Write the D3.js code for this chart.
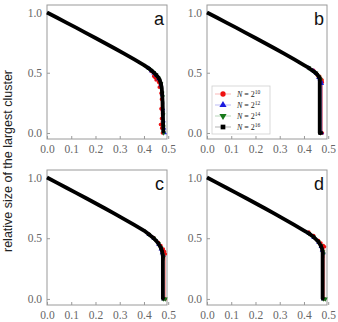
<!DOCTYPE html>
<html><head><meta charset="utf-8">
<script src="https://cdn.jsdelivr.net/npm/d3@7"></script>
<style>body{margin:0;background:#fff}svg{display:block}</style>
</head><body>
<svg id="c" width="338" height="322"></svg>
<script>
// ---- data ----
const panelLetters = ["a", "b", "c", "d"];
const seriesNames = ["2^10", "2^12", "2^14", "2^16"];
const xTicks = [0, 0.1, 0.2, 0.3, 0.4, 0.5];
const yTicks = [0, 0.5, 1.0];
const yLabel = "relative size of the largest cluster";

// shared linear part (all sizes coincide)
const headX = [0, 0.04, 0.08, 0.12, 0.16, 0.2, 0.24, 0.28, 0.32, 0.36, 0.4];
const headY = [1.0, 0.958, 0.916, 0.874, 0.831, 0.788, 0.745, 0.701, 0.656, 0.61, 0.563];

// transition tails [x, y] per panel and series (N=2^10, 2^12, 2^14, 2^16)
const aRed   = [[0.42,0.535],[0.43,0.51],[0.44,0.47],[0.445,0.46],[0.45,0.44],[0.455,0.45],[0.46,0.42],[0.463,0.38],[0.468,0.40],[0.47,0.33],[0.472,0.28],[0.47,0.2],[0.472,0.12],[0.468,0.07],[0.473,0.04],[0.476,0.0]];
const aBlue  = [[0.42,0.536],[0.43,0.515],[0.44,0.497],[0.45,0.478],[0.46,0.45],[0.47,0.40],[0.475,0.32],[0.478,0.2],[0.48,0.1],[0.482,0.04],[0.485,0.0]];
const aGreen = [[0.42,0.536],[0.43,0.52],[0.44,0.502],[0.45,0.482],[0.46,0.456],[0.47,0.41],[0.475,0.33],[0.477,0.3],[0.479,0.15],[0.48,0.05],[0.481,0.0]];
const aBlack = [[0.42,0.536],[0.43,0.52],[0.44,0.503],[0.45,0.483],[0.46,0.458],[0.465,0.44],[0.47,0.41],[0.473,0.375],[0.475,0.33],[0.477,0.25],[0.478,0.17],[0.479,0.08],[0.48,0.01]];

const bRed   = [[0.42,0.54],[0.44,0.52],[0.45,0.5],[0.455,0.48],[0.46,0.46],[0.465,0.47],[0.47,0.45],[0.475,0.44],[0.476,0.42],[0.476,0.0]];
const bBlue  = [[0.42,0.54],[0.44,0.515],[0.45,0.495],[0.46,0.46],[0.465,0.45],[0.47,0.43],[0.473,0.41],[0.473,0.0]];
const bGreen = [[0.42,0.54],[0.44,0.512],[0.45,0.497],[0.46,0.47],[0.465,0.455],[0.468,0.44],[0.468,0.0]];
const bBlack = [[0.42,0.54],[0.43,0.525],[0.44,0.51],[0.45,0.495],[0.455,0.485],[0.46,0.47],[0.463,0.46],[0.465,0.45],[0.465,0.0],[0.472,0.0]];

const cRed   = [[0.42,0.535],[0.44,0.505],[0.46,0.465],[0.47,0.44],[0.48,0.41],[0.485,0.39],[0.488,0.37],[0.488,0.0]];
const cBlue  = [[0.42,0.53],[0.44,0.5],[0.46,0.45],[0.47,0.41],[0.475,0.38],[0.48,0.36],[0.482,0.0]];
const cGreen = [[0.42,0.532],[0.44,0.5],[0.46,0.455],[0.47,0.42],[0.478,0.36],[0.48,0.34],[0.48,0.0],[0.488,0.0]];
const cBlack = [[0.42,0.532],[0.44,0.5],[0.45,0.48],[0.46,0.455],[0.47,0.42],[0.475,0.39],[0.478,0.35],[0.478,0.33],[0.478,0.0]];

const dRed   = [[0.42,0.55],[0.44,0.522],[0.46,0.482],[0.47,0.46],[0.48,0.44],[0.485,0.43],[0.485,0.0]];
const dBlue  = [[0.42,0.538],[0.44,0.505],[0.46,0.465],[0.47,0.43],[0.475,0.40],[0.48,0.38],[0.48,0.0]];
const dGreen = [[0.42,0.54],[0.44,0.51],[0.46,0.47],[0.47,0.44],[0.478,0.39],[0.48,0.37],[0.48,0.0],[0.488,0.0]];
const dBlack = [[0.42,0.54],[0.44,0.51],[0.46,0.47],[0.47,0.435],[0.475,0.41],[0.477,0.38],[0.477,0.35],[0.477,0.0]];

const tails = [[aRed, aBlue, aGreen, aBlack], [bRed, bBlue, bGreen, bBlack],
               [cRed, cBlue, cGreen, cBlack], [dRed, dBlue, dGreen, dBlack]];

// ---- drawing ----
const colors = ["#ee1111", "#1a1adf", "#17791a", "#000000"];
const symbols = [d3.symbolCircle, d3.symbolTriangle, d3.symbolTriangle, d3.symbolSquare];
const symRot = [0, 0, 180, 0];
const svg = d3.select("#c");
const panels = [
  {l: 47, r: 167, t: 5, b: 139}, {l: 207, r: 327, t: 5, b: 139},
  {l: 47, r: 167, t: 170, b: 305}, {l: 207, r: 327, t: 170, b: 305}
];
const serif = "'Liberation Serif', 'DejaVu Serif', serif";

panels.forEach((p, pi) => {
  const x = d3.scaleLinear().domain([0, 0.495]).range([p.l, p.r]);
  const y = d3.scaleLinear().domain([-0.05, 1.062]).range([p.b, p.t]);
  const g = svg.append("g");
  g.append("rect").attr("x", p.l).attr("y", p.t).attr("width", p.r - p.l).attr("height", p.b - p.t)
    .attr("fill", "none").attr("stroke", "#9a9a9a").attr("stroke-width", 1);
  const xa = g.append("g").attr("transform", `translate(0,${p.b})`)
    .call(d3.axisBottom(x).tickValues(xTicks).tickFormat(d3.format(".1f")).tickSizeInner(-3).tickSizeOuter(0).tickPadding(6));
  const ya = g.append("g").attr("transform", `translate(${p.l},0)`)
    .call(d3.axisLeft(y).tickValues(yTicks).tickFormat(d3.format(".1f")).tickSizeInner(-3).tickSizeOuter(0).tickPadding(5));
  [xa, ya].forEach(a => {
    a.attr("font-family", serif);
    a.select(".domain").remove();
    a.selectAll("line").attr("stroke", "#9a9a9a");
    a.selectAll("text").style("font-family", serif).attr("font-size", 11.5).attr("fill", "#666");
  });
  const line = d3.line().x(d => x(d[0])).y(d => y(d[1]));
  const head = headX.map((v, i) => [v, headY[i]]);
  tails[pi].forEach((tail, si) => {
    const pts = head.concat(tail);
    const isBlack = si === 3;
    g.append("path").datum(pts).attr("d", line).attr("fill", "none")
      .attr("stroke", colors[si]).attr("stroke-opacity", isBlack ? 1 : 0.45)
      .attr("stroke-width", isBlack ? 3.8 : 1.2).attr("stroke-linejoin", "round");
    g.selectAll(null).data(tail).enter().append("path")
      .attr("transform", d => `translate(${x(d[0])},${y(d[1])}) rotate(${symRot[si]})`)
      .attr("d", d3.symbol().type(symbols[si]).size(isBlack ? 9 : 10))
      .attr("fill", colors[si]);
  });
  g.append("text").attr("x", p.r - 3).attr("y", p.t + 20).attr("text-anchor", "end")
    .attr("font-family", "'Liberation Sans', Arial, sans-serif").attr("font-size", 18).attr("fill", "#111")
    .text(panelLetters[pi]);

  if (pi === 1) {
    const lg = g.append("g");
    lg.append("rect").attr("x", 212).attr("y", 86).attr("width", 58).attr("height", 48)
      .attr("fill", "#fff").attr("stroke", "#cfcfcf").attr("stroke-width", 0.8);
    seriesNames.forEach((n, si) => {
      const yy = 94 + si * 11;
      lg.append("line").attr("x1", 215).attr("x2", 231).attr("y1", yy).attr("y2", yy)
        .attr("stroke", colors[si]).attr("stroke-opacity", 0.3).attr("stroke-width", 1);
      lg.append("path").attr("transform", `translate(223,${yy}) rotate(${symRot[si]})`)
        .attr("d", d3.symbol().type(symbols[si]).size(22)).attr("fill", colors[si]);
      const t = lg.append("text").attr("x", 237).attr("y", yy + 3)
        .style("font-family", serif).attr("font-size", 8).attr("fill", "#222");
      t.append("tspan").attr("font-style", "italic").text("N");
      t.append("tspan").text(" = " + n.split("^")[0]);
      t.append("tspan").attr("font-size", 5.5).attr("dy", -3.5).text(n.split("^")[1]);
    });
  }
});

svg.append("text").attr("transform", "translate(12,161) rotate(-90)")
  .attr("text-anchor", "middle").attr("font-family", "'Liberation Sans', Arial, sans-serif")
  .attr("font-size", 12.5).attr("fill", "#222").text(yLabel);
</script>
</body></html>
